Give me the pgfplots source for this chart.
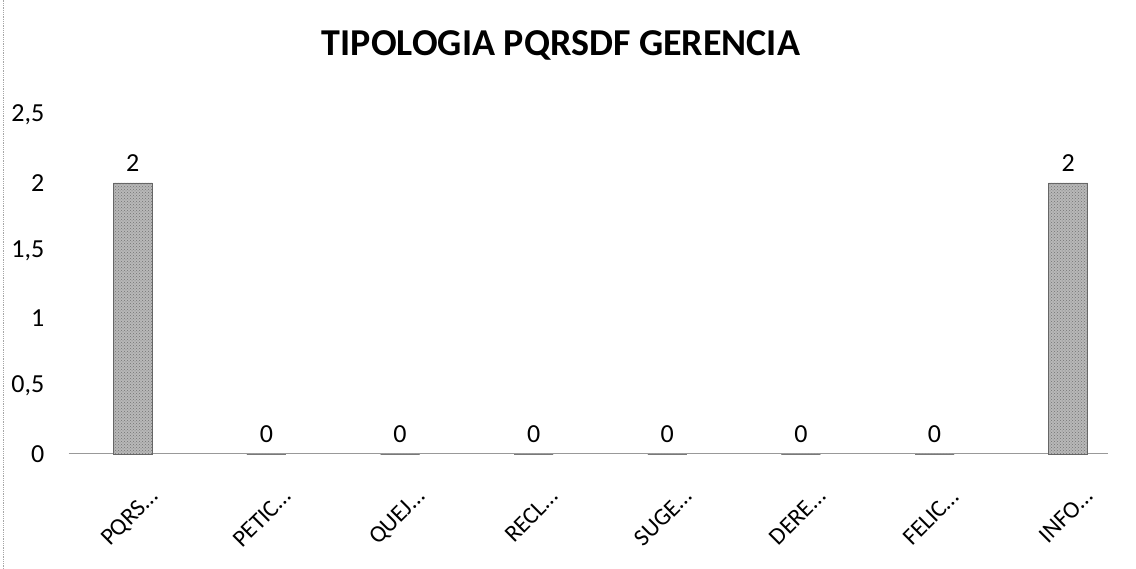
\documentclass[border=0pt]{standalone}
\usepackage{fontspec}
\setmainfont{Carlito}
\usepackage{pgfplots}
\pgfplotsset{compat=1.18}
\usetikzlibrary{patterns}
\begin{document}
\begin{tikzpicture}[x=1pt,y=1pt]
\useasboundingbox (0,0) rectangle (1136,569);
\draw[gray!70, densely dotted, line width=0.8pt] (3,0) -- (3,569);
\node[font=\fontsize{38}{44}\selectfont\bfseries] at (561,524) {TIPOLOGIA PQRSDF GERENCIA};
\begin{axis}[
  at={(66pt,115pt)}, anchor=south west,
  scale only axis, width=1069pt, height=339pt,
  xmin=-0.5, xmax=7.5, ymin=0, ymax=2.5,
  axis x line=bottom, axis y line=left,
  axis line style={draw=none},
  ytick={0,0.5,1,1.5,2,2.5},
  xtick={0,...,7},
  xticklabels={PQRS…,PETIC…,QUEJ…,RECL…,SUGE…,DERE…,FELIC…,INFO…},
  /pgf/number format/.cd, use comma, assume math mode=true,
  /pgfplots/.cd,
  yticklabel style={font=\fontsize{26}{30}\selectfont, anchor=east, xshift=-16pt},
  xticklabel style={font=\fontsize{24}{30}\selectfont, xshift=15pt, yshift=-24pt, rotate=45, anchor=north east},
  tick style={draw=none},
  ybar, bar width=39pt,
  nodes near coords,
  nodes near coords style={font=\fontsize{26}{30}\selectfont, yshift=8pt},
  clip=false,
]
\draw[gray!80, line width=1pt] (axis cs:-0.48,0) -- (axis cs:7.3,0);
\addplot[fill=black!28, draw=black!60, postaction={pattern=crosshatch dots, pattern color=black!55}]
coordinates {(0,2) (1,0) (2,0) (3,0) (4,0) (5,0) (6,0) (7,2)};
\end{axis}
\end{tikzpicture}
\end{document}
